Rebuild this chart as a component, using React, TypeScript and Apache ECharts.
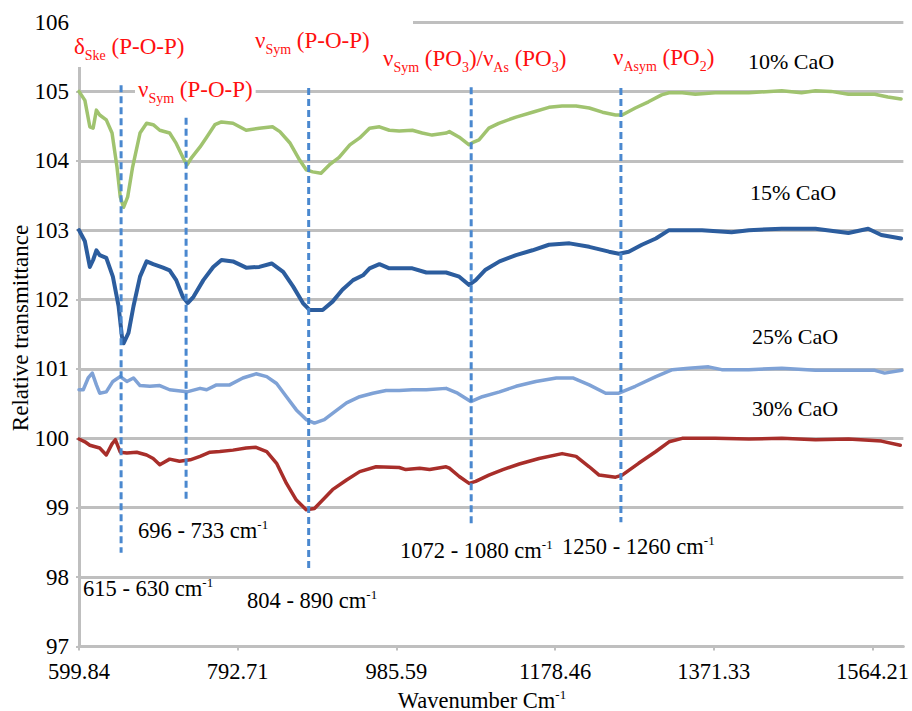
import React, { useEffect, useRef } from "react";
import * as echarts from "echarts";

const xTickLabels = [599.84, 792.71, 985.59, 1178.46, 1371.33, 1564.21];
const xMin = 599.84;
const xMax = 1601.8;
const yMin = 97;
const yMax = 106;

const cao10: number[][] = [
  [599.84, 105.0], [607, 104.87], [613, 104.49], [617, 104.47], [621, 104.73], [625, 104.66], [633, 104.59],
  [640, 104.4], [646, 103.91], [650, 103.48], [654, 103.33], [659, 103.48], [665, 103.91], [674, 104.4],
  [682, 104.54], [690, 104.52], [698, 104.44], [710, 104.4], [718, 104.25], [726, 104.05], [731, 103.94],
  [737, 104.05], [747, 104.2], [755, 104.34], [765, 104.52], [773, 104.56], [787, 104.54], [803, 104.44],
  [819, 104.47], [835, 104.49], [844, 104.42], [856, 104.26], [868, 104.01], [876, 103.87], [884, 103.84],
  [894, 103.82], [904, 103.94], [916, 104.05], [929, 104.23], [941, 104.33], [953, 104.47], [965, 104.49],
  [977, 104.44], [989, 104.43], [1005, 104.44], [1017, 104.4], [1029, 104.37], [1046, 104.4], [1050, 104.42],
  [1062, 104.34], [1074, 104.23], [1078, 104.26], [1086, 104.3], [1098, 104.47], [1110, 104.54], [1131, 104.63],
  [1151, 104.7], [1171, 104.77], [1187, 104.79], [1204, 104.79], [1220, 104.76], [1236, 104.7], [1252, 104.66],
  [1260, 104.66], [1276, 104.76], [1292, 104.85], [1308, 104.95], [1317, 104.98], [1333, 104.98], [1349, 104.96],
  [1373, 104.98], [1414, 104.98], [1454, 105.01], [1478, 104.98], [1495, 105.01], [1514, 105.0], [1535, 104.96],
  [1567, 104.96], [1583, 104.92], [1599, 104.89],
];

const cao15: number[][] = [
  [599.84, 103.0], [607, 102.84], [613, 102.47], [617, 102.57], [621, 102.71], [625, 102.64], [633, 102.6],
  [641, 102.33], [648, 101.9], [652, 101.47], [654, 101.37], [660, 101.52], [666, 101.9], [674, 102.33],
  [682, 102.55], [690, 102.51], [702, 102.46], [710, 102.42], [718, 102.28], [726, 102.04], [732, 101.95],
  [739, 102.04], [751, 102.28], [763, 102.47], [773, 102.57], [787, 102.55], [803, 102.46], [819, 102.47],
  [834, 102.52], [848, 102.4], [860, 102.19], [872, 101.95], [880, 101.85], [896, 101.85], [908, 101.97],
  [920, 102.14], [933, 102.28], [945, 102.35], [953, 102.45], [965, 102.51], [977, 102.45], [989, 102.45],
  [1005, 102.45], [1022, 102.39], [1046, 102.39], [1062, 102.33], [1074, 102.21], [1082, 102.28], [1094, 102.43],
  [1111, 102.55], [1131, 102.64], [1151, 102.71], [1171, 102.79], [1196, 102.81], [1220, 102.76], [1244, 102.69],
  [1256, 102.66], [1268, 102.69], [1284, 102.79], [1301, 102.88], [1317, 103.0], [1341, 103.0], [1357, 103.0],
  [1393, 102.97], [1414, 103.0], [1454, 103.02], [1495, 103.02], [1535, 102.96], [1559, 103.02], [1575, 102.93],
  [1599, 102.88],
];

const cao25: number[][] = [
  [599.84, 100.7], [605, 100.7], [611, 100.87], [616, 100.94], [621, 100.77], [625, 100.65], [633, 100.67],
  [641, 100.82], [650, 100.89], [658, 100.82], [666, 100.87], [674, 100.76], [686, 100.75], [698, 100.76],
  [710, 100.7], [731, 100.67], [747, 100.72], [755, 100.7], [767, 100.77], [783, 100.77], [799, 100.87],
  [815, 100.93], [828, 100.89], [840, 100.79], [852, 100.6], [864, 100.41], [876, 100.27], [886, 100.22],
  [898, 100.27], [908, 100.36], [925, 100.51], [941, 100.6], [957, 100.65], [973, 100.69], [989, 100.69],
  [1005, 100.7], [1022, 100.7], [1046, 100.72], [1060, 100.65], [1076, 100.53], [1090, 100.6], [1111, 100.67],
  [1131, 100.75], [1155, 100.82], [1180, 100.87], [1200, 100.87], [1220, 100.77], [1240, 100.65], [1256, 100.65],
  [1276, 100.75], [1301, 100.89], [1321, 100.99], [1341, 101.01], [1365, 101.03], [1381, 100.99], [1414, 100.99],
  [1454, 101.01], [1495, 100.98], [1567, 100.98], [1579, 100.94], [1600, 100.98],
];

const cao30: number[][] = [
  [599.84, 99.99], [607, 99.95], [613, 99.9], [625, 99.86], [633, 99.76], [640, 99.92], [644, 99.98],
  [650, 99.8], [658, 99.79], [670, 99.8], [682, 99.76], [690, 99.71], [698, 99.62], [710, 99.7], [722, 99.67],
  [735, 99.69], [747, 99.74], [759, 99.8], [771, 99.81], [787, 99.83], [803, 99.86], [815, 99.87], [828, 99.81],
  [840, 99.64], [852, 99.35], [864, 99.11], [876, 98.97], [886, 98.99], [896, 99.11], [908, 99.26], [925, 99.4],
  [941, 99.52], [961, 99.59], [989, 99.58], [997, 99.55], [1014, 99.57], [1026, 99.55], [1046, 99.59],
  [1050, 99.57], [1062, 99.45], [1074, 99.35], [1082, 99.38], [1098, 99.47], [1115, 99.55], [1135, 99.63],
  [1159, 99.71], [1187, 99.78], [1204, 99.74], [1220, 99.59], [1232, 99.47], [1252, 99.44], [1260, 99.47],
  [1280, 99.64], [1301, 99.81], [1317, 99.95], [1333, 100.0], [1373, 100.0], [1414, 99.99], [1454, 100.0],
  [1495, 99.98], [1535, 99.99], [1575, 99.96], [1598, 99.9],
];

const peakWavenumbers = [651, 730, 879, 1076.5, 1258.5];
const peakTop = [105.09, 104.62, 105.05, 105.06, 105.05];
const peakBottom = [98.35, 99.11, 98.08, 98.75, 98.79];

const seriesNames = ["10% CaO", "15% CaO", "25% CaO", "30% CaO"];
const seriesColors = ["#a0c36f", "#2c5d9e", "#7fa2d6", "#a82e2a"];
const seriesWidths = [3.5, 4, 3.5, 3.5];

const SERIF = "Liberation Serif, DejaVu Serif, Times New Roman, serif";
const RED = "#ff1010";
const GRID = "#bfbfbf";

function redLabel(x: number, y: number, text: string, bg?: boolean) {
  return {
    type: "text",
    x,
    y,
    z: 10,
    style: {
      text,
      fontFamily: SERIF,
      fontSize: 23,
      fill: RED,
      align: "left",
      verticalAlign: "middle",
      backgroundColor: bg ? "#ffffff" : undefined,
      padding: bg ? [0, 3, 0, 3] : 0,
      rich: {
        m: { fontFamily: SERIF, fontSize: 23, lineHeight: 32, fill: RED },
        s: { fontFamily: SERIF, fontSize: 14, lineHeight: 11, verticalAlign: "bottom", fill: RED },
      },
    },
  };
}

function blackLabel(x: number, y: number, text: string, align = "left", size = 22.5) {
  return {
    type: "text",
    x,
    y,
    z: 10,
    style: {
      text,
      fontFamily: SERIF,
      fontSize: size,
      fill: "#000",
      align,
      verticalAlign: "middle",
      rich: {
        m: { fontFamily: SERIF, fontSize: size, lineHeight: 24, fill: "#000" },
        u: { fontFamily: SERIF, fontSize: 13, lineHeight: 13, verticalAlign: "top", fill: "#000" },
      },
    },
  };
}

export default function App() {
  const ref = useRef<HTMLDivElement>(null);
  useEffect(() => {
    if (!ref.current) return;
    const chart = echarts.init(ref.current, undefined, { renderer: "svg" });

    const curveSeries = [cao10, cao15, cao25, cao30].map((d, i) => ({
      type: "line",
      name: seriesNames[i],
      data: d,
      showSymbol: false,
      symbol: "none",
      z: 2,
      lineStyle: { color: seriesColors[i], width: seriesWidths[i], join: "round", cap: "round" },
      silent: true,
    }));

    const dashSeries = peakWavenumbers.map((w, i) => ({
      type: "line",
      name: "peak" + i,
      data: [
        [w, peakTop[i]],
        [w, peakBottom[i]],
      ],
      showSymbol: false,
      symbol: "none",
      z: 3,
      lineStyle: { color: "#4a88cf", width: 3, type: [7, 4] },
      silent: true,
    }));

    const option: any = {
      animation: false,
      backgroundColor: "#ffffff",
      textStyle: { fontFamily: SERIF },
      grid: { left: 79, right: 7, top: 22, bottom: 64.5, containLabel: false },
      xAxis: {
        type: "value",
        min: xMin,
        max: xMax,
        axisLine: { show: true, lineStyle: { color: GRID, width: 3 } },
        axisTick: {
          show: true,
          customValues: xTickLabels,
          length: 4,
          lineStyle: { color: GRID, width: 2 },
        },
        axisLabel: {
          customValues: xTickLabels,
          formatter: (v: number) => v.toFixed(2),
          fontFamily: SERIF,
          fontSize: 22.5,
          color: "#000",
          margin: 13,
        },
        splitLine: { show: false },
      },
      yAxis: {
        type: "value",
        min: yMin,
        max: yMax,
        interval: 1,
        axisLine: { show: true, lineStyle: { color: GRID, width: 3 } },
        axisTick: { show: true, length: 3, lineStyle: { color: GRID, width: 2 } },
        axisLabel: { fontFamily: SERIF, fontSize: 23, color: "#000", margin: 10 },
        splitLine: { show: true, lineStyle: { color: GRID, width: 3 } },
      },
      series: [...curveSeries, ...dashSeries],
      graphic: [
        { type: "rect", z: 5, shape: { x: 72, y: 10, width: 341, height: 57 }, style: { fill: "#ffffff" } },
        redLabel(74, 46, "{m|δ}{s|Ske}{m| (P-O-P)}"),
        redLabel(135, 89, "{m|ν}{s|Sym}{m| (P-O-P)}", true),
        redLabel(255, 40, "{m|ν}{s|Sym}{m| (P-O-P)}"),
        redLabel(383, 58, "{m|ν}{s|Sym}{m| (PO}{s|3}{m|)/ν}{s|As}{m| (PO}{s|3}{m|)}"),
        redLabel(613, 57, "{m|ν}{s|Asym}{m| (PO}{s|2}{m|)}"),
        blackLabel(748, 61, "{m|10% CaO}", "left", 22),
        blackLabel(750, 192, "{m|15% CaO}", "left", 22),
        blackLabel(752, 336, "{m|25% CaO}", "left", 22),
        blackLabel(752, 408, "{m|30% CaO}", "left", 22),
        blackLabel(83, 588, "{m|615 - 630 cm}{u|-1}"),
        blackLabel(138, 530, "{m|696 - 733 cm}{u|-1}"),
        blackLabel(247, 600, "{m|804 - 890 cm}{u|-1}"),
        blackLabel(400, 550, "{m|1072 - 1080 cm}{u|-1}"),
        blackLabel(562, 546, "{m|1250 - 1260 cm}{u|-1}"),
        blackLabel(482, 700, "{m|Wavenumber Cm}{u|-1}", "center"),
        {
          type: "text",
          x: 20,
          y: 328,
          rotation: Math.PI / 2,
          z: 10,
          style: {
            text: "Relative transmittance",
            fontFamily: SERIF,
            fontSize: 23,
            fill: "#000",
            align: "center",
            verticalAlign: "middle",
          },
        },
      ],
    };
    chart.setOption(option);
    return () => chart.dispose();
  }, []);
  return (
    <div
      ref={ref}
      style={{ position: "absolute", left: 0, top: 0, width: 912, height: 711, background: "#fff" }}
    />
  );
}
